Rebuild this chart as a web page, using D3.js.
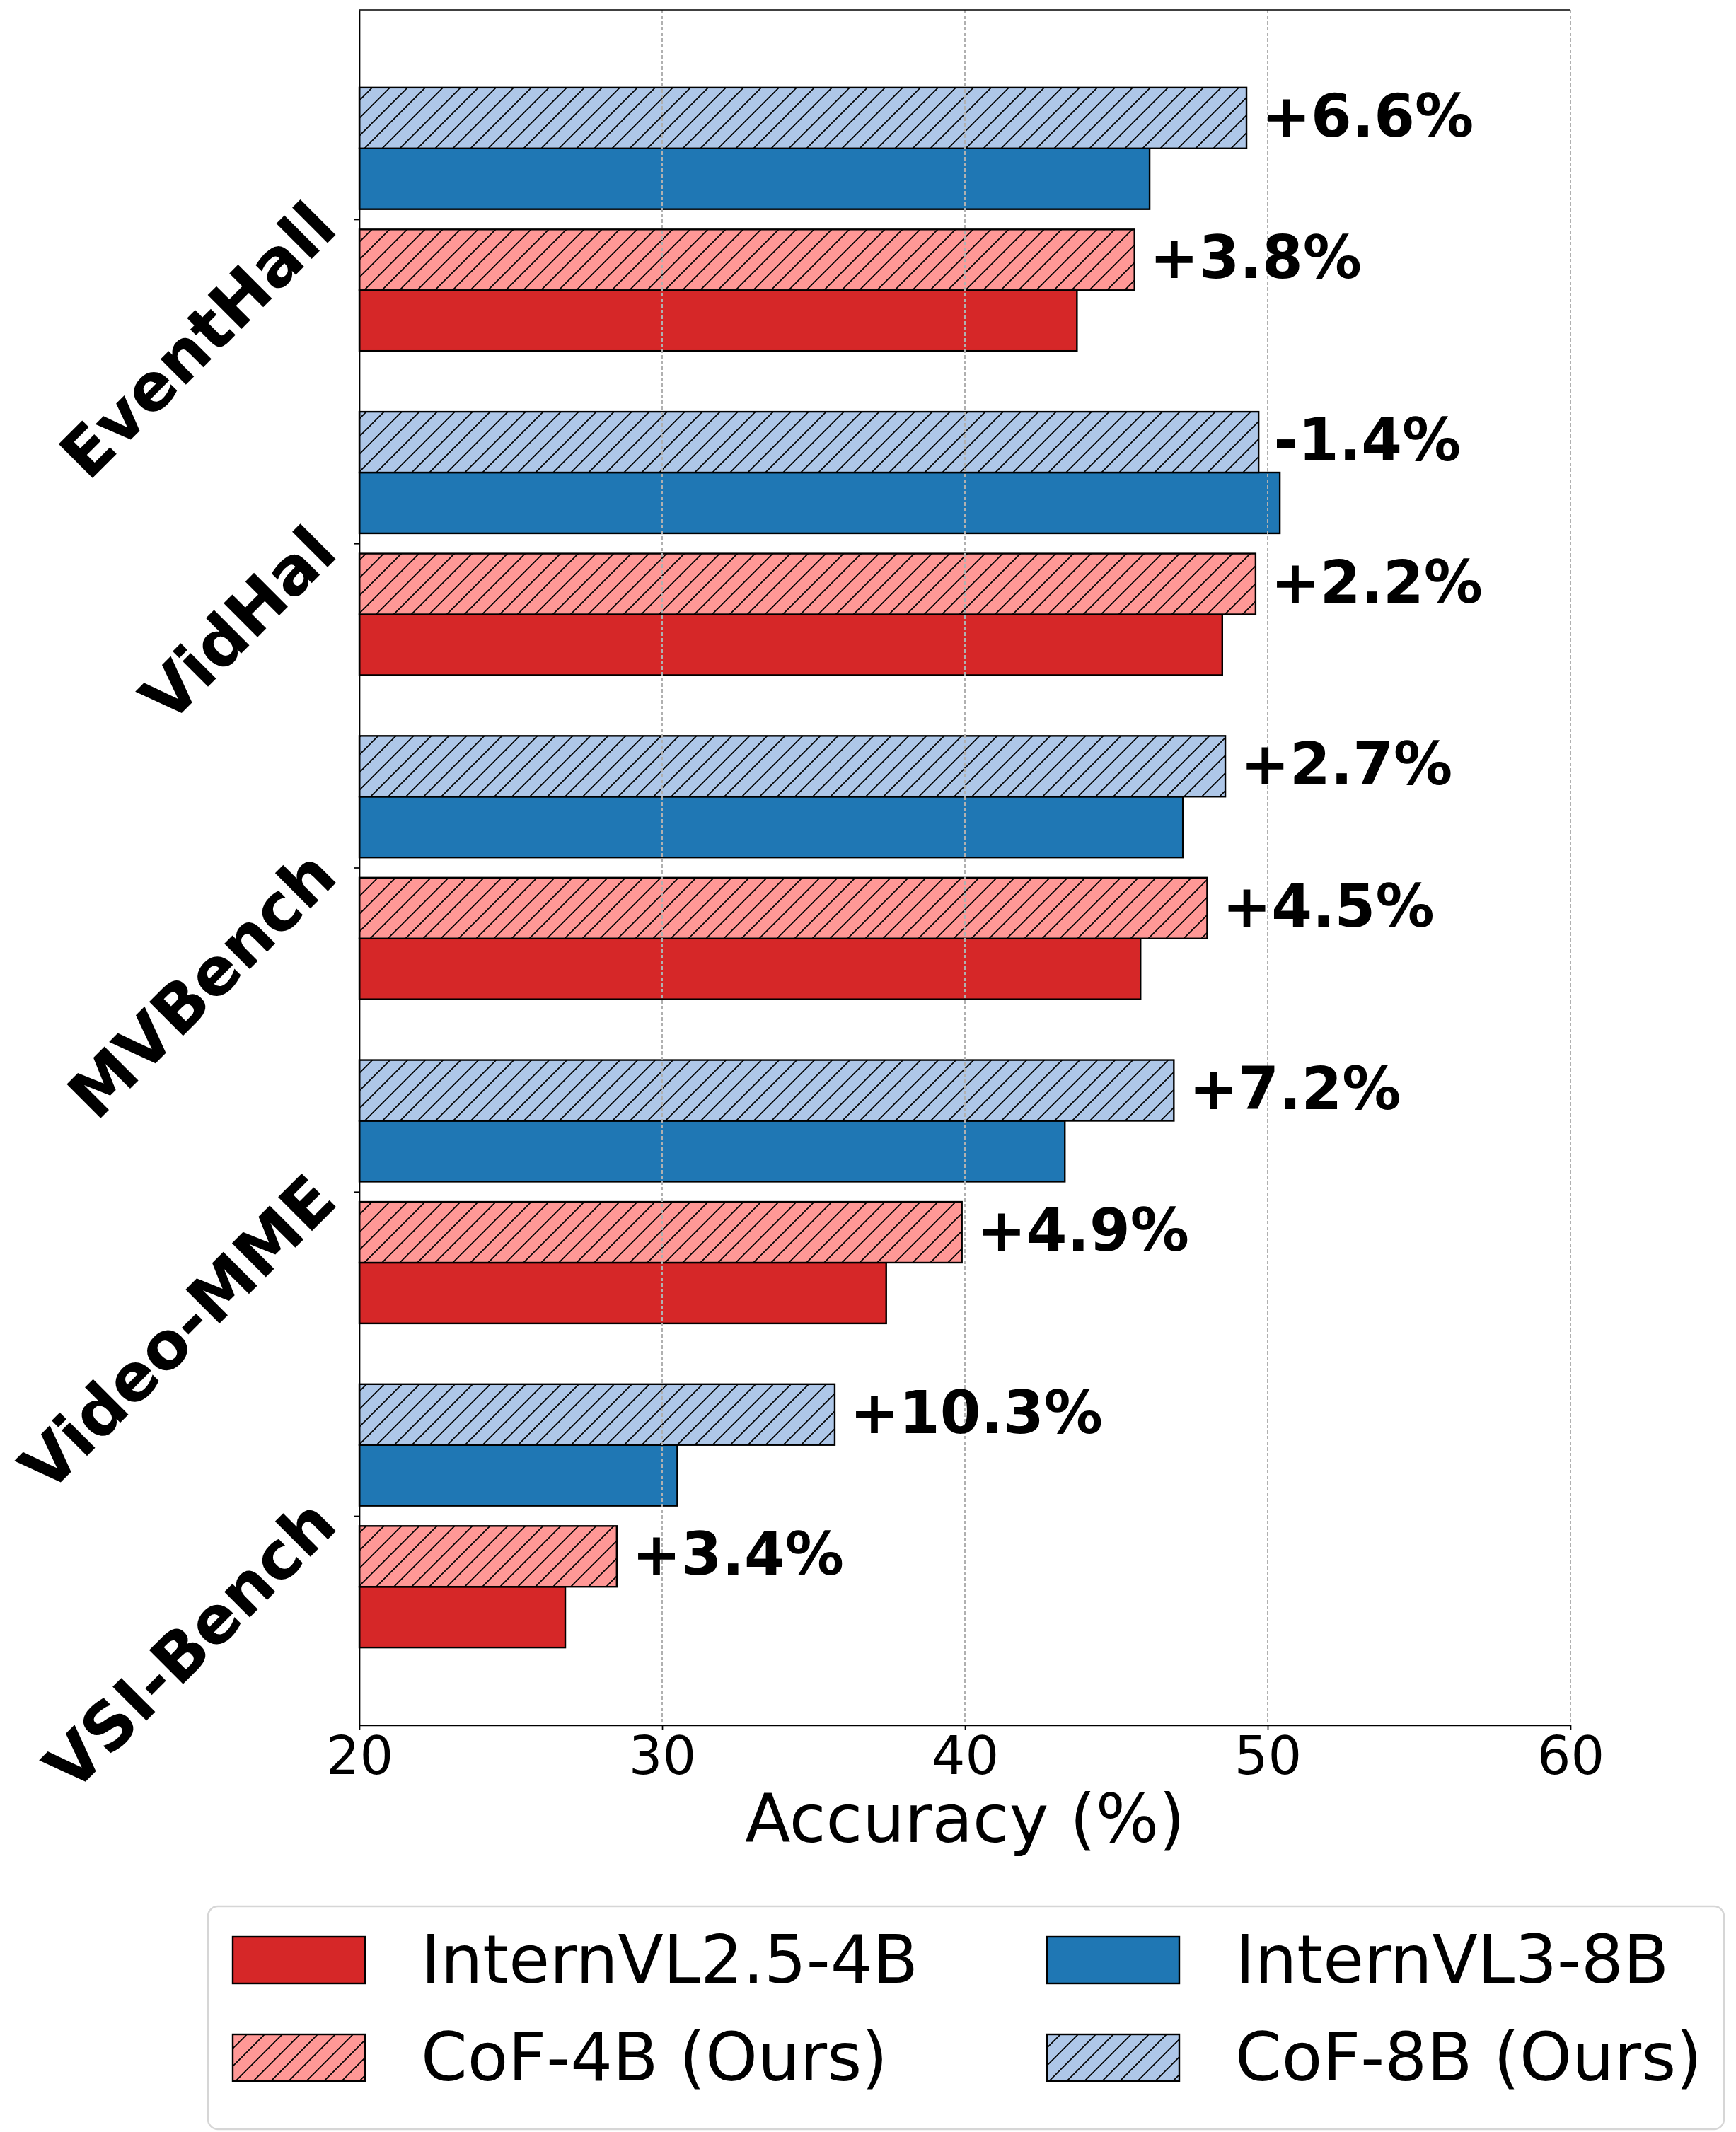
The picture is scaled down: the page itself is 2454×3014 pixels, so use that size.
<!DOCTYPE html>
<meta charset="utf-8">
<title>Accuracy of InternVL and CoF models on video benchmarks</title>
<style>
body { margin: 0; background: #fff; }
text { font-family: "DejaVu Sans", sans-serif; }
</style>
<script src="https://d3js.org/d3.v7.min.js"></script>
<div id="chart"></div>
<script>

// benchmarks, top to bottom
var categories = ["EventHall", "VidHal", "MVBench", "Video-MME", "VSI-Bench"];

// accuracy (%)
var internvl25_4b = [43.7, 48.5, 45.8, 37.4, 26.8];
var cof_4b        = [45.6, 49.6, 48.0, 39.9, 28.5];
var internvl3_8b  = [46.1, 50.4, 47.2, 43.3, 30.5];
var cof_8b        = [49.3, 49.7, 48.6, 46.9, 35.7];

// gain labels written next to the CoF bars
var gain_4b = ["+3.8%", "+2.2%", "+4.5%", "+4.9%", "+3.4%"];
var gain_8b = ["+6.6%", "-1.4%", "+2.7%", "+7.2%", "+10.3%"];

var xTicks = [20, 30, 40, 50, 60];

var W = 2454, H = 3014;
var plot = {left: 508, right: 2220, top: 14, bottom: 2439};

var svg = d3.select("#chart").append("svg")
    .attr("width", W)
    .attr("height", H);

var defs = svg.append("defs");
function hatch(id, fill) {
  var p = defs.append("pattern")
      .attr("id", id)
      .attr("patternUnits", "userSpaceOnUse")
      .attr("width", 25)
      .attr("height", 25);
  p.append("rect").attr("width", 25).attr("height", 25).attr("fill", fill);
  p.append("path")
      .attr("d", "M-5,5 L5,-5 M0,25 L25,0 M20,30 L30,20")
      .attr("stroke", "#000")
      .attr("stroke-width", 1.7);
}
hatch("hatchRed", "#ff9896");
hatch("hatchBlue", "#aec7e8");

// series: data, fill, offset from tick (in category units)
var series = [
  {name: "InternVL2.5-4B", values: internvl25_4b, fill: "#d62728", off: 0.3125},
  {name: "CoF-4B (Ours)", values: cof_4b, fill: "url(#hatchRed)", off: 0.125, labels: gain_4b},
  {name: "InternVL3-8B", values: internvl3_8b, fill: "#1f77b4", off: -0.125},
  {name: "CoF-8B (Ours)", values: cof_8b, fill: "url(#hatchBlue)", off: -0.3125, labels: gain_8b}
];
var barH = 0.1875;

var x = d3.scaleLinear()
    .domain([20, 60])
    .range([plot.left, plot.right]);

var y = d3.scaleLinear()
    .domain([-0.646, 4.646])
    .range([plot.top, plot.bottom]);

// bars
series.forEach(function(s) {
  svg.append("g")
    .selectAll("rect")
    .data(s.values)
    .enter()
    .append("rect")
      .attr("x", x(20))
      .attr("y", function(d, i) { return y(i + s.off - barH / 2); })
      .attr("width", function(d) { return x(d) - x(20); })
      .attr("height", y(barH) - y(0))
      .attr("fill", s.fill)
      .attr("stroke", "#000")
      .attr("stroke-width", 2.4);
});

// dashed vertical grid, drawn over the bars like matplotlib does
svg.append("g")
  .selectAll("line")
  .data(xTicks)
  .enter()
  .append("line")
    .attr("x1", function(d) { return x(d); })
    .attr("x2", function(d) { return x(d); })
    .attr("y1", plot.top)
    .attr("y2", plot.bottom)
    .attr("stroke", "#b0b0b0")
    .attr("stroke-width", 2)
    .attr("stroke-dasharray", "5,3");

// x axis
var xAxis = svg.append("g")
    .attr("transform", "translate(0," + plot.bottom + ")")
    .call(d3.axisBottom(x).tickValues(xTicks).tickSize(7).tickSizeOuter(0).tickPadding(9));
xAxis.select(".domain").attr("stroke-width", 1.7);
xAxis.selectAll(".tick line").attr("stroke-width", 1.7);
xAxis.selectAll("text")
    .attr("font-family", "DejaVu Sans")
    .attr("font-size", 75);

// y axis with rotated bold labels
var yAxis = svg.append("g")
    .attr("transform", "translate(" + plot.left + ",0)")
    .call(d3.axisLeft(y).tickValues(d3.range(categories.length))
      .tickFormat(function(i) { return categories[i]; })
      .tickSize(7).tickSizeOuter(0));
yAxis.select(".domain").attr("stroke-width", 1.7);
yAxis.selectAll(".tick line").attr("stroke-width", 1.7);
yAxis.selectAll("text")
    .attr("x", 0)
    .attr("dy", 0)
    .attr("transform", "translate(-28,16) rotate(-45)")
    .attr("text-anchor", "end")
    .attr("font-family", "DejaVu Sans")
    .attr("font-weight", "bold")
    .attr("font-size", 93);

// top spine
svg.append("line")
    .attr("x1", plot.left).attr("x2", plot.right)
    .attr("y1", plot.top).attr("y2", plot.top)
    .attr("stroke", "#000")
    .attr("stroke-width", 1.7);

// gain labels
series.filter(function(s) { return s.labels; }).forEach(function(s) {
  svg.append("g")
    .selectAll("text")
    .data(s.values)
    .enter()
    .append("text")
      .attr("x", function(d) { return x(d + 0.5); })
      .attr("y", function(d, i) { return y(i + s.off) + 26; })
      .attr("font-size", 83)
      .attr("font-weight", "bold")
      .text(function(d, i) { return s.labels[i]; });
});

// x label
svg.append("text")
    .attr("x", (plot.left + plot.right) / 2)
    .attr("y", 2604)
    .attr("text-anchor", "middle")
    .attr("font-size", 94)
    .text("Accuracy (%)");

// legend, two columns
var legend = svg.append("g");
legend.append("rect")
    .attr("x", 294).attr("y", 2695)
    .attr("width", 2143).attr("height", 315)
    .attr("rx", 14)
    .attr("fill", "#fff")
    .attr("fill-opacity", 0.8)
    .attr("stroke", "#d6d6d6")
    .attr("stroke-width", 2.5);

var legendOrder = [series[0], series[2], series[1], series[3]];
var colX = [329, 1480], rowY = [2738, 2876];
legendOrder.forEach(function(s, k) {
  var cx = colX[k % 2], ry = rowY[Math.floor(k / 2)];
  legend.append("rect")
      .attr("x", cx).attr("y", ry)
      .attr("width", 187).attr("height", 66)
      .attr("fill", s.fill)
      .attr("stroke", "#000")
      .attr("stroke-width", 2.4);
  legend.append("text")
      .attr("x", cx + 266)
      .attr("y", ry + 65)
      .attr("font-size", 94)
      .text(s.name);
});

</script>
